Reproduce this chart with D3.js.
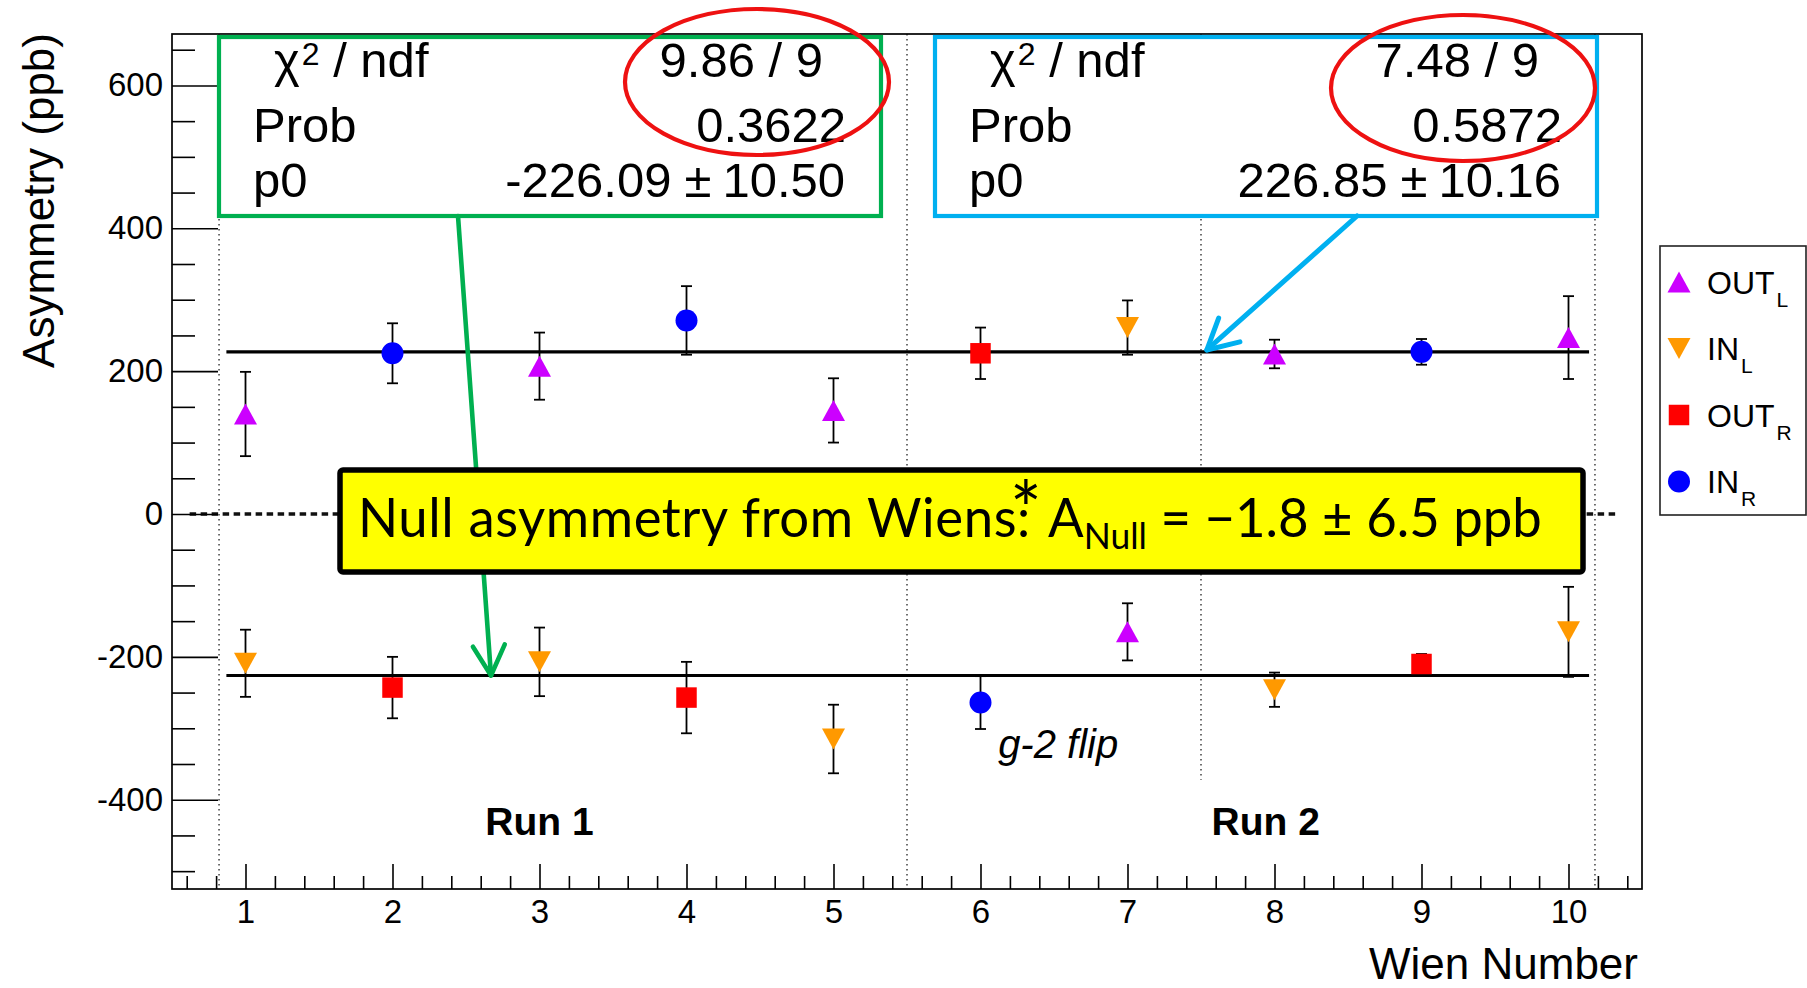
<!DOCTYPE html>
<html>
<head>
<meta charset="utf-8">
<script src="https://cdn.jsdelivr.net/npm/d3@7"></script>
<style>
  html, body { margin: 0; padding: 0; background: #fff; }
  svg { display: block; }
</style>
</head>
<body>
<svg id="chart" width="1807" height="988"></svg>
<script>
// Null asymmetry per Wien-filter setting, four detector-arm series,
// with a constant fitted to each of the two sign groups.
const wienTicks = [1, 2, 3, 4, 5, 6, 7, 8, 9, 10];
const asymTicks = [-400, -200, 0, 200, 400, 600];

const outLWien  = [1, 3, 5, 7, 8, 10];
const outLValue = [140, 207, 145, -165, 224, 247];
const outLError = [59, 47, 45, 40, 20, 58];

const inLWien  = [1, 3, 5, 7, 8, 10];
const inLValue = [-209, -207, -315, 261, -246, -165];
const inLError = [47, 48, 48, 38, 24, 63];

const outRWien  = [2, 4, 6, 9];
const outRValue = [-243, -257, 225, -210];
const outRError = [43, 50, 36, 14];

const inRWien  = [2, 4, 6, 9];
const inRValue = [225, 271, -264, 227];
const inRError = [42, 48, 37, 18];

// constant fits: [negative group, positive group]
const fitChi2  = [9.86, 7.48];
const fitNdf   = [9, 9];
const fitProb  = [0.3622, 0.5872];
const fitP0    = [-226.09, 226.85];
const fitP0Err = [10.50, 10.16];

const nullAsym = -1.8;
const nullAsymErr = 6.5;

const runLabels = ["Run 1", "Run 2"];
const runLabelWien = [3.0, 7.94];

const series = [
  { name: "OUT", sub: "L", color: "#cc00ff", shape: "up",     wien: outLWien, value: outLValue, error: outLError },
  { name: "IN",  sub: "L", color: "#ff9900", shape: "down",   wien: inLWien,  value: inLValue,  error: inLError },
  { name: "OUT", sub: "R", color: "#ff0000", shape: "square", wien: outRWien, value: outRValue, error: outRError },
  { name: "IN",  sub: "R", color: "#0000ff", shape: "circle", wien: inRWien,  value: inRValue,  error: inRError }
];

const ROOTFONT = "'Liberation Sans', Arial, Helvetica, sans-serif";
const svg = d3.select("#chart");

const frame = { left: 172, right: 1642, top: 34, bottom: 889 };
const x = d3.scaleLinear().domain([0.5, 10.5]).range([frame.left, frame.right]);
const y = d3.scaleLinear().domain([-525, 672]).range([frame.bottom, frame.top]);

// marker outline centred on (cx, cy)
function markerPath(shape, cx, cy) {
  const tw = 23, th = 21, sq = 20.5, r = 11;
  if (shape === "up")
    return `M${cx - tw / 2},${cy + th / 2}L${cx + tw / 2},${cy + th / 2}L${cx},${cy - th / 2}Z`;
  if (shape === "down")
    return `M${cx - tw / 2},${cy - th / 2}L${cx + tw / 2},${cy - th / 2}L${cx},${cy + th / 2}Z`;
  if (shape === "square")
    return `M${cx - sq / 2},${cy - sq / 2}h${sq}v${sq}h${-sq}Z`;
  return `M${cx - r},${cy}a${r},${r} 0 1,0 ${2 * r},0a${r},${r} 0 1,0 ${-2 * r},0Z`;
}

// ---------- guide lines ----------
const guides = svg.append("g");
[0.82, 5.5, 10.18].forEach(w => {
  guides.append("line")
    .attr("x1", x(w)).attr("x2", x(w))
    .attr("y1", frame.top).attr("y2", frame.bottom)
    .attr("stroke", "#333").attr("stroke-width", 1.4)
    .attr("stroke-dasharray", "1.4,3.6");
});
guides.append("line")
  .attr("x1", x(7.5)).attr("x2", x(7.5))
  .attr("y1", frame.top).attr("y2", y(-372))
  .attr("stroke", "#333").attr("stroke-width", 1.4)
  .attr("stroke-dasharray", "1.4,3.6");
guides.append("line")
  .attr("x1", x(0.62)).attr("x2", x(10.34))
  .attr("y1", y(0)).attr("y2", y(0))
  .attr("stroke", "#111").attr("stroke-width", 3.6)
  .attr("stroke-dasharray", "6.5,4.5");

// ---------- axes ----------
const yMinor = d3.range(-500, 672, 50).filter(v => v % 200 !== 0);
const xMinor = d3.range(3, 53).map(k => k / 5).filter(v => Math.abs(v - Math.round(v)) > 1e-6);

const yAxis = svg.append("g").attr("transform", `translate(${frame.left},0)`)
  .call(d3.axisLeft(y).tickValues(asymTicks).tickSize(-46).tickPadding(9).tickFormat(d => String(d)));
const yAxisMinor = svg.append("g").attr("transform", `translate(${frame.left},0)`)
  .call(d3.axisLeft(y).tickValues(yMinor).tickSize(-23).tickFormat(""));
const xAxis = svg.append("g").attr("transform", `translate(0,${frame.bottom})`)
  .call(d3.axisBottom(x).tickValues(wienTicks).tickSize(-25).tickPadding(11).tickFormat(d => String(d)));
const xAxisMinor = svg.append("g").attr("transform", `translate(0,${frame.bottom})`)
  .call(d3.axisBottom(x).tickValues(xMinor).tickSize(-13).tickFormat(""));

[yAxis, yAxisMinor, xAxis, xAxisMinor].forEach(a => {
  a.select(".domain").remove();
  a.selectAll(".tick line").attr("stroke", "#000").attr("stroke-width", 1.6);
  a.selectAll("text").attr("font-family", ROOTFONT).attr("font-size", 33).attr("fill", "#000");
});

svg.append("rect")
  .attr("x", frame.left).attr("y", frame.top)
  .attr("width", frame.right - frame.left).attr("height", frame.bottom - frame.top)
  .attr("fill", "none").attr("stroke", "#000").attr("stroke-width", 1.7);

// ---------- fitted constants ----------
svg.selectAll(".fitline").data(fitP0).enter().append("line")
  .attr("class", "fitline")
  .attr("x1", x(0.87)).attr("x2", x(10.14))
  .attr("y1", d => y(d)).attr("y2", d => y(d))
  .attr("stroke", "#000").attr("stroke-width", 3.2);

// ---------- data points ----------
const pts = svg.append("g");
series.forEach(s => {
  const data = s.wien.map((w, i) => ({ w, v: s.value[i], e: s.error[i] }));
  const bars = pts.append("g").selectAll("g").data(data).enter().append("g")
    .attr("stroke", "#000").attr("stroke-width", 1.8);
  bars.append("line")
    .attr("x1", d => x(d.w)).attr("x2", d => x(d.w))
    .attr("y1", d => y(d.v - d.e)).attr("y2", d => y(d.v + d.e));
  bars.append("line")
    .attr("x1", d => x(d.w) - 5.5).attr("x2", d => x(d.w) + 5.5)
    .attr("y1", d => y(d.v - d.e)).attr("y2", d => y(d.v - d.e));
  bars.append("line")
    .attr("x1", d => x(d.w) - 5.5).attr("x2", d => x(d.w) + 5.5)
    .attr("y1", d => y(d.v + d.e)).attr("y2", d => y(d.v + d.e));
  pts.append("g").selectAll("path").data(data).enter().append("path")
    .attr("d", d => markerPath(s.shape, x(d.w), y(d.v)))
    .attr("fill", s.color);
});

// ---------- run labels ----------
svg.selectAll(".runlabel").data(runLabels).enter().append("text")
  .attr("class", "runlabel")
  .attr("x", (d, i) => x(runLabelWien[i])).attr("y", 835)
  .attr("text-anchor", "middle")
  .attr("font-family", ROOTFONT).attr("font-weight", "bold").attr("font-size", 39)
  .text(d => d);

svg.append("text")
  .attr("x", x(6.12)).attr("y", 758)
  .attr("font-family", ROOTFONT).attr("font-style", "italic").attr("font-size", 40)
  .text("g-2 flip");

// ---------- fit statistics boxes ----------
const boxLeft = [219, 935];
const boxColor = ["#00b050", "#00b0f0"];
const ellipseDx = [538, 528];
const ellipseCy = [82, 88];

fitP0.forEach((p0, i) => {
  const L = boxLeft[i];
  const g = svg.append("g").attr("font-family", ROOTFONT).attr("font-size", 49).attr("fill", "#000");
  g.append("rect").attr("x", L).attr("y", 37).attr("width", 662).attr("height", 179)
    .attr("fill", "#fff").attr("stroke", boxColor[i]).attr("stroke-width", 4.2);
  const chi = g.append("text").attr("x", L + 55).attr("y", 77);
  chi.append("tspan").text("\u03c7");
  chi.append("tspan").attr("font-size", 32).attr("dx", 2).attr("dy", -12).text("2");
  chi.append("tspan").attr("dy", 12).text(" / ndf");
  g.append("text").attr("x", L + 604).attr("y", 77).attr("text-anchor", "end")
    .text(`${fitChi2[i].toFixed(2)} / ${fitNdf[i]}`);
  g.append("text").attr("x", L + 34).attr("y", 142).text("Prob");
  g.append("text").attr("x", L + 627).attr("y", 142).attr("text-anchor", "end")
    .text(fitProb[i].toFixed(4));
  g.append("text").attr("x", L + 34).attr("y", 197).text("p0");
  const pv = g.append("text").attr("x", L + 626).attr("y", 197).attr("text-anchor", "end");
  pv.append("tspan").text(p0.toFixed(2));
  pv.append("tspan").attr("dx", 13).text("\u00b1");
  pv.append("tspan").attr("dx", 11).text(fitP0Err[i].toFixed(2));
});

// ---------- arrows from each box to its fitted line ----------
function arrow(x0, y0, x1, y1, color, width) {
  const ang = Math.atan2(y0 - y1, x0 - x1);
  const len = 34, spread = 28 * Math.PI / 180;
  const a1 = [x1 + len * Math.cos(ang - spread), y1 + len * Math.sin(ang - spread)];
  const a2 = [x1 + len * Math.cos(ang + spread), y1 + len * Math.sin(ang + spread)];
  const g = svg.append("g").attr("stroke", color).attr("stroke-width", width)
    .attr("fill", "none").attr("stroke-linecap", "round").attr("stroke-linejoin", "round");
  g.append("line").attr("x1", x0).attr("y1", y0).attr("x2", x1).attr("y2", y1);
  g.append("polyline").attr("points", `${a1[0]},${a1[1]} ${x1},${y1} ${a2[0]},${a2[1]}`);
}
arrow(458, 216, x(2.67), y(fitP0[0]), boxColor[0], 4.6);
arrow(1357, 216, x(7.54), y(fitP0[1]) - 2, boxColor[1], 5);

// ---------- highlight ellipses ----------
fitP0.forEach((p0, i) => {
  svg.append("ellipse")
    .attr("cx", boxLeft[i] + ellipseDx[i]).attr("cy", ellipseCy[i])
    .attr("rx", 132).attr("ry", 73)
    .attr("fill", "none").attr("stroke", "#ee1111").attr("stroke-width", 4.2);
});

// ---------- null asymmetry result ----------
svg.append("rect")
  .attr("x", 340).attr("y", 470).attr("width", 1243).attr("height", 102).attr("rx", 3)
  .attr("fill", "#ffff00").attr("stroke", "#000").attr("stroke-width", 5.5);

const nullG = svg.append("g").attr("font-family", "Lato, 'Noto Sans', sans-serif").attr("fill", "#000");
const lead = "Null asymmetry from Wiens:";
const nullText = nullG.append("text").attr("x", 358).attr("y", 537).attr("font-size", 55);
nullText.append("tspan").attr("letter-spacing", 0.6).text(lead);
nullText.append("tspan").attr("dx", 18).text("A");
nullText.append("tspan").attr("font-size", 37).attr("dy", 12).text("Null");
nullText.append("tspan").attr("dy", -12)
  .text(` = \u2212${Math.abs(nullAsym).toFixed(1)} \u00b1 ${nullAsymErr.toFixed(1)} ppb`);

const tn = nullText.node();
const colonIdx = lead.length - 1;
const colonMid = (tn.getStartPositionOfChar(colonIdx).x + tn.getEndPositionOfChar(colonIdx).x) / 2;
nullG.append("text").attr("x", colonMid + 2).attr("y", 538)
  .attr("text-anchor", "middle").attr("font-size", 78).text("*");
const textW = tn.getBBox().width;
const sx = 1184 / textW;
nullG.attr("transform", `translate(358,0) scale(${sx},1) translate(-358,0)`);

// ---------- legend ----------
const leg = svg.append("g").attr("font-family", ROOTFONT);
leg.append("rect").attr("x", 1660).attr("y", 246).attr("width", 146).attr("height", 269)
  .attr("fill", "#fff").attr("stroke", "#222").attr("stroke-width", 1.6);
series.forEach((s, i) => {
  const cy = 282 + i * 66.5;
  leg.append("path").attr("d", markerPath(s.shape, 1679, cy)).attr("fill", s.color);
  const t = leg.append("text").attr("x", 1707).attr("y", cy + 11.5).attr("font-size", 32);
  t.append("tspan").text(s.name);
  t.append("tspan").attr("dx", 2).attr("dy", 13).attr("font-size", 21).text(s.sub);
});

// ---------- axis titles ----------
svg.append("text")
  .attr("transform", "translate(54,33) rotate(-90)")
  .attr("text-anchor", "end")
  .attr("font-family", ROOTFONT).attr("font-size", 44)
  .text("Asymmetry (ppb)");
svg.append("text")
  .attr("x", 1638).attr("y", 979)
  .attr("text-anchor", "end")
  .attr("font-family", ROOTFONT).attr("font-size", 44)
  .text("Wien Number");
</script>
</body>
</html>
